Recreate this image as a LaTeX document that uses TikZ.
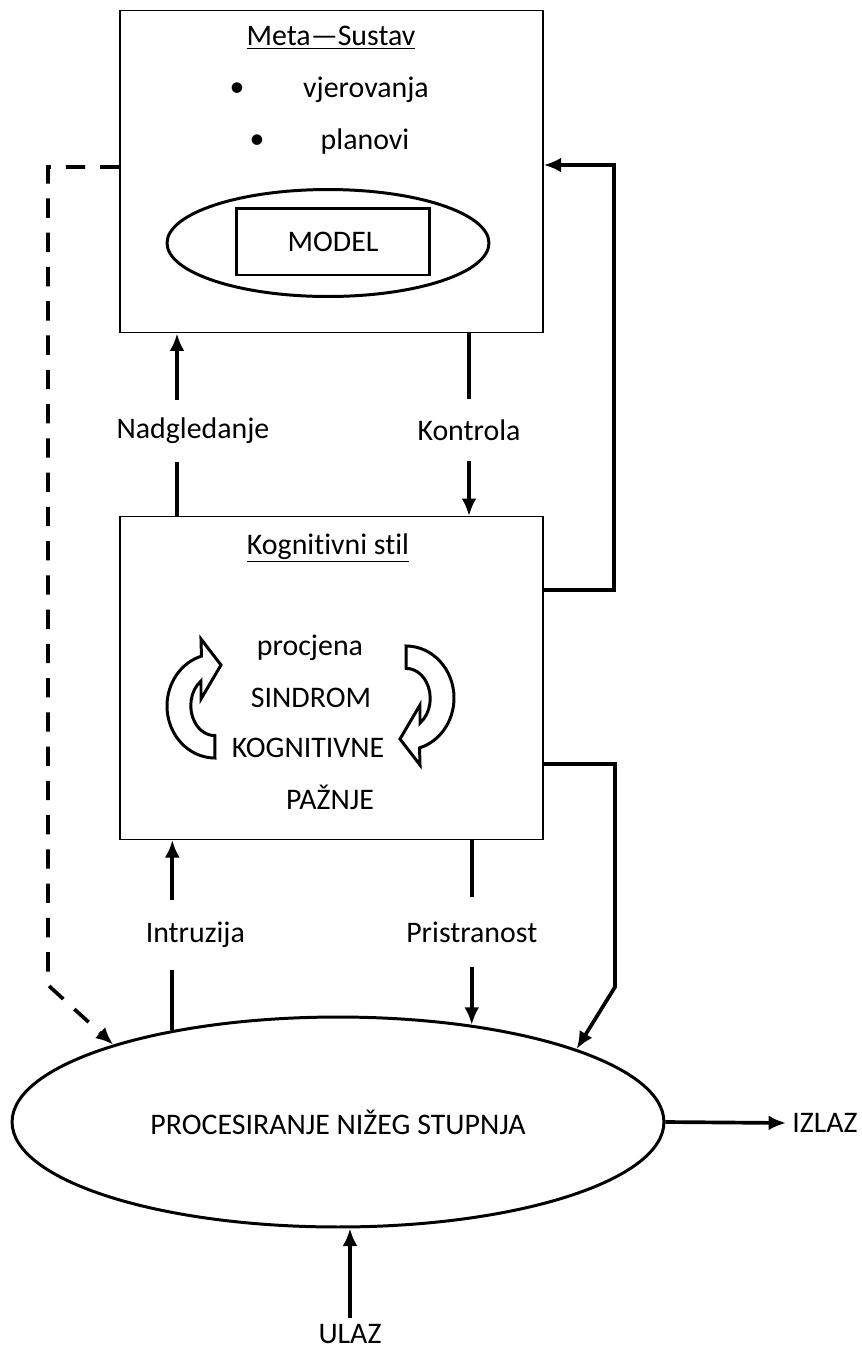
\documentclass[tikz,border=0pt]{standalone}
\usepackage{fontspec}
\setmainfont{Carlito}[Ligatures=NoCommon]
\usetikzlibrary{arrows.meta,shapes.geometric}

\begin{document}
\begin{tikzpicture}[x=0.02cm,y=-0.02cm,font=\fontsize{17}{20}\selectfont,
    >={Latex[length=10pt,width=8.5pt]}]

      \useasboundingbox (0,0) rectangle (862,1353);

      \begin{scope}[every node/.style={draw,line width=0.8pt,minimum width=8.46cm,minimum height=6.45cm,inner sep=0pt}]
        \node (meta) at (331.5,171.5) {};
        \node (kog)  at (331.5,678)   {};
      \end{scope}

      % meta-sustav
      \node (metatitle) at (331,38)  {\underline{Meta—Sustav}};
      \node (b1)        at (237,90)  {\textbullet};
      \node (vjer)      at (366,90)  {vjerovanja};
      \node (b2)        at (257,142) {\textbullet};
      \node (plan)      at (365,142) {planovi};
      \node[draw,ellipse,line width=1.7pt,minimum width=6.44cm,minimum height=2.14cm] (modelell) at (328,243) {};
      \node[draw,line width=1.7pt,minimum width=3.88cm,minimum height=1.34cm] (model) at (333,241.5) {MODEL};

      % kognitivni stil
      \node (kogtitle) at (328,548) {\underline{Kognitivni stil}};
      \node (procj)  at (310,648) {procjena};
      \node (sind)   at (311,698) {SINDROM};
      \node (kogn)   at (308,748) {KOGNITIVNE};
      \node (paz)    at (330,797) {PAŽNJE};

      \begin{scope}[line width=1.7pt,fill=white]
        \draw (215,758) arc[start angle=90,end angle=253.6,x radius=48,y radius=52]
          -- (201,639) -- (221,665) -- (201,699) -- (201,681)
          arc[start angle=235,end angle=90,x radius=24,y radius=30] -- cycle;
        \begin{scope}[rotate around={180:(310.5,702)}]
          \draw (215,758) arc[start angle=90,end angle=253.6,x radius=48,y radius=52]
            -- (201,639) -- (221,665) -- (201,699) -- (201,681)
            arc[start angle=235,end angle=90,x radius=24,y radius=30] -- cycle;
        \end{scope}
      \end{scope}

      % nize procesiranje
      \node[draw,ellipse,line width=1.7pt,minimum width=13.04cm,minimum height=4.2cm] (proc) at (338,1122) {PROCESIRANJE NIŽEG STUPNJA};
      \node (izlaz) at (825,1123) {IZLAZ};
      \node (ulaz)  at (350,1334) {ULAZ};

      \coordinate (lx)  at (177,0);
      \coordinate (rx)  at (469,0);
      \coordinate (dl)  at (48,167);
      \coordinate (dc)  at (48,985);
      \coordinate (fb1) at (614,590);
      \coordinate (fb2) at (614,165);
      \coordinate (fs1) at (615,764);
      \coordinate (fs2) at (615,987);

      \begin{scope}[line width=2.1pt,every node/.style={fill=white,inner xsep=0pt,minimum height=1.24cm}]
        \draw[->] (kog.north -| lx) -- node[xshift=0.32cm,yshift=-0.12cm] {Nadgledanje} (meta.south -| lx);
        \draw[->] (meta.south -| rx) -- node[yshift=-0.1cm] {Kontrola} (kog.north -| rx);
        \draw[->] (proc.151) -- node[xshift=0.46cm,minimum height=1.4cm] {Intruzija} (proc.151 |- kog.south);
        \draw[->] (kog.south -| proc.36.3) -- node[minimum height=1.4cm] {Pristranost} (proc.36.3);
        \draw[->] (kog.east |- fb1) -- (fb1) -- (fb2) -- (meta.east |- fb2);
        \draw[->] (kog.east |- fs1) -- (fs1) -- (fs2) -- (proc.17.7);
        \draw[->,dash pattern=on 11pt off 8.5pt] (meta.west |- dl) -- (dl) -- (dc) -- (proc.161.8);
        \draw[->] (proc.east) -- (izlaz.west);
        \draw[->] (ulaz.north) -- (ulaz.north |- proc.south);
      \end{scope}

    \end{tikzpicture}
\end{document}
